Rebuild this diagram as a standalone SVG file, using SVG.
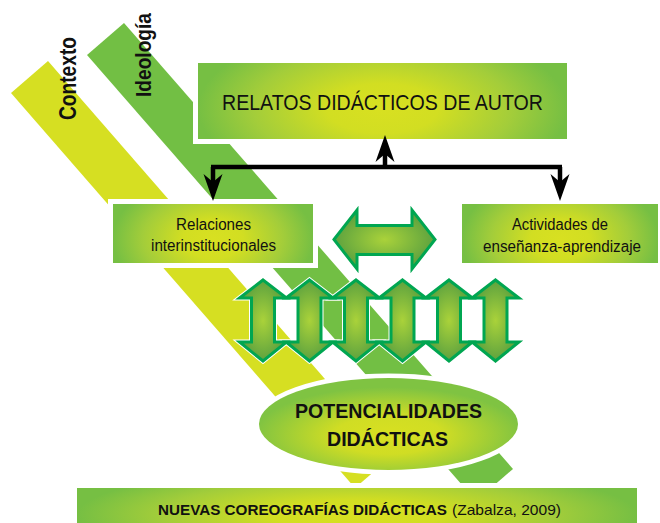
<svg xmlns="http://www.w3.org/2000/svg" xmlns:xlink="http://www.w3.org/1999/xlink" width="660" height="523" viewBox="0 0 660 523">
  <defs>
    <radialGradient id="gBox" cx="0.5" cy="0.6" r="0.5" gradientTransform="translate(0.5,0.6) scale(1,2.2) translate(-0.5,-0.6)">
      <stop offset="0" stop-color="#d8e021"/>
      <stop offset="0.3" stop-color="#d2de22"/>
      <stop offset="0.7" stop-color="#a3cd3a"/>
      <stop offset="1" stop-color="#76bf43"/>
    </radialGradient>
    <radialGradient id="gEll" cx="0.5" cy="0.62" r="0.52">
      <stop offset="0" stop-color="#d8e021"/>
      <stop offset="0.4" stop-color="#d0dd24"/>
      <stop offset="1" stop-color="#7fc342"/>
    </radialGradient>
    <radialGradient id="gArr" cx="0.5" cy="0.5" r="0.5">
      <stop offset="0" stop-color="#aad23a"/>
      <stop offset="1" stop-color="#5da23f"/>
    </radialGradient>
    <path id="va" d="M0,280 L23.5,298 L11.5,298 L11.5,342 L23.5,342 L0,361 L-23.5,342 L-11.5,342 L-11.5,298 L-23.5,298 Z"/>
    <marker id="head" viewBox="-10 -11 32 22" refX="0" refY="0" markerWidth="32" markerHeight="22" markerUnits="userSpaceOnUse" orient="auto">
      <path d="M-8,-9.5 L19,0 L-8,9.5 L0,0 Z" fill="#000"/>
    </marker>
    <style>
      .box { stroke: #fff; stroke-width: 10; paint-order: stroke; fill: url(#gBox); }
      .arr { fill: url(#gArr); stroke: #00a651; stroke-width: 3; stroke-linejoin: miter; }
      .halo { fill: none; stroke: #fff; stroke-width: 5; stroke-linejoin: miter; }
      .t { font-family: "Liberation Sans Narrow", "Liberation Sans", Arial, sans-serif; fill: #111; }
      .b { font-weight: bold; }
      .con { fill: none; stroke: #000; stroke-width: 4.5; }
    </style>
  </defs>

  <g id="bands">
    <polygon points="11,93 48,61 392,456 355,488" fill="#d6df22"/>
    <polygon points="87,55 124,23 513,469 476,501" fill="#72bf44"/>
    <text class="t b" font-size="24" transform="translate(76,120) rotate(-90)" textLength="83" lengthAdjust="spacingAndGlyphs">Contexto</text>
    <text class="t b" font-size="22" transform="translate(151,97) rotate(-90)" textLength="84" lengthAdjust="spacingAndGlyphs">Ideología</text>
  </g>

  <g id="relatos">
    <rect class="box" x="198" y="63" width="369" height="76"/>
    <text class="t" font-size="22" x="222" y="110" textLength="321" lengthAdjust="spacingAndGlyphs">RELATOS DIDÁCTICOS DE AUTOR</text>
  </g>

  <g id="relaciones">
    <rect class="box" x="113" y="204" width="200" height="59"/>
    <text class="t" font-size="16" x="176" y="230" textLength="75" lengthAdjust="spacingAndGlyphs">Relaciones</text>
    <text class="t" font-size="16" x="151" y="251" textLength="125" lengthAdjust="spacingAndGlyphs">interinstitucionales</text>
  </g>

  <g id="actividades">
    <rect class="box" x="462" y="204" width="196" height="59"/>
    <text class="t" font-size="16" x="512" y="230" textLength="96" lengthAdjust="spacingAndGlyphs">Actividades de</text>
    <text class="t" font-size="16" x="483" y="252" textLength="158" lengthAdjust="spacingAndGlyphs">enseñanza-aprendizaje</text>
  </g>

  <g id="connectors">
    <path class="con" d="M211,167 H562"/>
    <path class="con" d="M385,167 V154" marker-end="url(#head)"/>
    <path class="con" d="M213,167 V182" marker-end="url(#head)"/>
    <path class="con" d="M560,167 V182" marker-end="url(#head)"/>
  </g>

  <g id="flecha-horizontal">
    <path class="halo" d="M334,239.5 L357,210 L357,225.5 L412,225.5 L412,210 L435,239.5 L412,269 L412,254.5 L357,254.5 L357,269 Z"/>
    <path class="arr" d="M334,239.5 L357,210 L357,225.5 L412,225.5 L412,210 L435,239.5 L412,269 L412,254.5 L357,254.5 L357,269 Z"/>
  </g>

  <g id="flechas-verticales">
    <use xlink:href="#va" href="#va" x="263" class="halo"/>
    <use xlink:href="#va" href="#va" x="309.5" class="halo"/>
    <use xlink:href="#va" href="#va" x="356" class="halo"/>
    <use xlink:href="#va" href="#va" x="402.5" class="halo"/>
    <use xlink:href="#va" href="#va" x="449" class="halo"/>
    <use xlink:href="#va" href="#va" x="495.5" class="halo"/>
    <use xlink:href="#va" href="#va" x="263" class="arr"/>
    <use xlink:href="#va" href="#va" x="309.5" class="arr"/>
    <use xlink:href="#va" href="#va" x="356" class="arr"/>
    <use xlink:href="#va" href="#va" x="402.5" class="arr"/>
    <use xlink:href="#va" href="#va" x="449" class="arr"/>
    <use xlink:href="#va" href="#va" x="495.5" class="arr"/>
  </g>

  <g id="potencialidades">
    <ellipse cx="388.5" cy="424" rx="129.5" ry="46" fill="url(#gEll)" stroke="#fff" stroke-width="9" paint-order="stroke"/>
    <text class="t b" font-size="21" x="295" y="418" textLength="187" lengthAdjust="spacingAndGlyphs">POTENCIALIDADES</text>
    <text class="t b" font-size="21" x="327" y="446" textLength="121" lengthAdjust="spacingAndGlyphs">DIDÁCTICAS</text>
  </g>

  <g id="nuevas">
    <rect class="box" x="77" y="488" width="560" height="45"/>
    <text class="t b" font-size="14.5" x="158" y="515" textLength="289" lengthAdjust="spacingAndGlyphs">NUEVAS COREOGRAFÍAS DIDÁCTICAS</text>
    <text class="t" font-size="14.5" x="452" y="515" textLength="109" lengthAdjust="spacingAndGlyphs">(Zabalza, 2009)</text>
  </g>
</svg>
